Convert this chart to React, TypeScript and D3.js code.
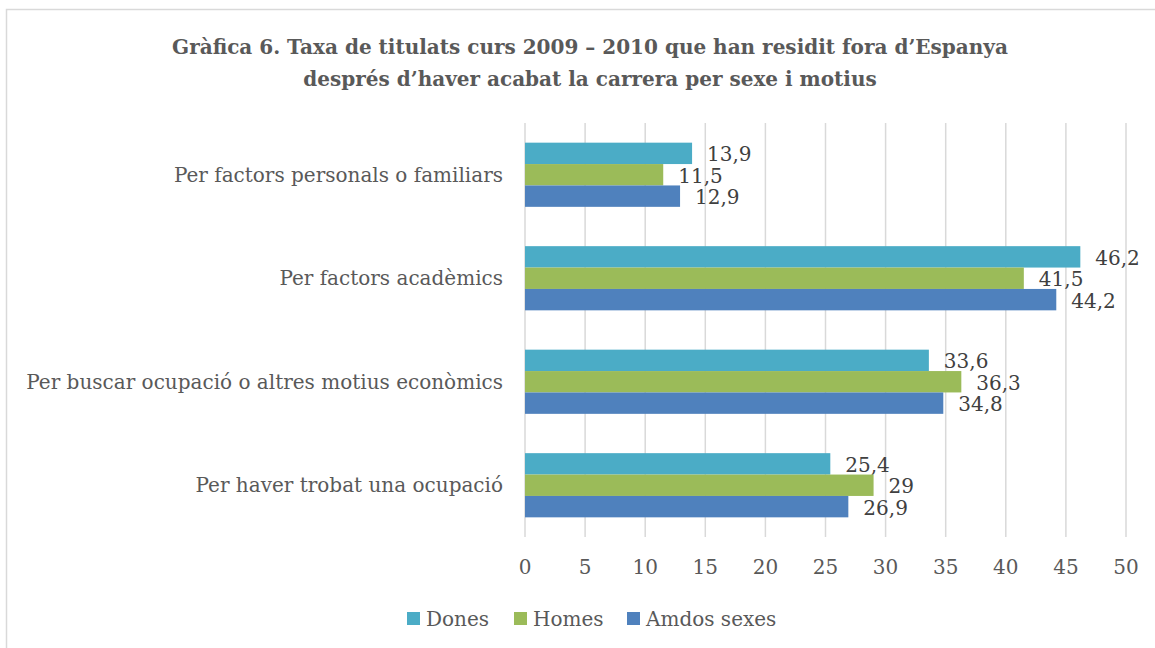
import React from "react";
import * as d3 from "d3";

const categories = [
  "Per factors personals o familiars",
  "Per factors acadèmics",
  "Per buscar ocupació o altres motius econòmics",
  "Per haver trobat una ocupació",
];
const seriesNames = ["Dones", "Homes", "Amdos sexes"];
const dones = [13.9, 46.2, 33.6, 25.4];
const homes = [11.5, 41.5, 36.3, 29];
const amdos = [12.9, 44.2, 34.8, 26.9];
const xTicks = [0, 5, 10, 15, 20, 25, 30, 35, 40, 45, 50];
const colors = ["#4BACC6", "#9BBB59", "#4F81BD"];
const titleLines = [
  "Gràfica 6. Taxa de titulats curs 2009 – 2010 que han residit fora d’Espanya",
  "després d’haver acabat la carrera per sexe i motius",
];

const W = 1155;
const H = 648;
const FONT = "'DejaVu Serif', serif";
const TXT = "#595959";

export default function App() {
  const x = d3.scaleLinear().domain([0, 50]).range([525, 1126]);
  const y = d3.scaleBand().domain(categories).range([123, 537]).paddingInner(0.38).paddingOuter(0.19);
  const inner = d3.scaleBand().domain(seriesNames).range([0, y.bandwidth()]);
  const series = [dones, homes, amdos];
  const fmt = (v: number) => String(v).replace(".", ",");

  return (
    <svg width={W} height={H} style={{ position: "absolute", left: 0, top: 0 }}>
      <rect x={0} y={0} width={W} height={H} fill="#fff" />
      <rect x={6.5} y={9.5} width={W + 10} height={H + 10} fill="none" stroke="#D9D9D9" strokeWidth={1.5} />
      {titleLines.map((t, i) => (
        <text key={i} x={590} y={54 + i * 32} textAnchor="middle" fontFamily={FONT} fontWeight="bold" fontSize={20} fill={TXT}>
          {t}
        </text>
      ))}
      {xTicks.map((t) => (
        <g key={t}>
          <line x1={x(t)} x2={x(t)} y1={123} y2={537} stroke="#D9D9D9" strokeWidth={1.5} />
          <text x={x(t)} y={574} textAnchor="middle" fontFamily={FONT} fontSize={20} fill={TXT}>
            {t}
          </text>
        </g>
      ))}
      {categories.map((c, ci) => (
        <g key={c}>
          <text x={503} y={(y(c) as number) + y.bandwidth() / 2 + 7} textAnchor="end" fontFamily={FONT} fontSize={20} fill={TXT}>
            {c}
          </text>
          {seriesNames.map((s, si) => {
            const v = series[si][ci];
            const by = (y(c) as number) + (inner(s) as number);
            return (
              <g key={s}>
                <rect x={x(0)} y={by} width={x(v) - x(0)} height={inner.bandwidth()} fill={colors[si]} />
                <text x={x(v) + 15} y={by + inner.bandwidth() / 2 + 8} fontFamily={FONT} fontSize={20} fill="#404040">
                  {fmt(v)}
                </text>
              </g>
            );
          })}
        </g>
      ))}
      {(() => {
        const items = [
          { x: 407, name: seriesNames[0] },
          { x: 514, name: seriesNames[1] },
          { x: 627, name: seriesNames[2] },
        ];
        return items.map((it, i) => (
          <g key={it.name}>
            <rect x={it.x} y={612} width={13} height={13} fill={colors[i]} />
            <text x={it.x + 19} y={626} fontFamily={FONT} fontSize={20} fill={TXT}>
              {it.name}
            </text>
          </g>
        ));
      })()}
    </svg>
  );
}
